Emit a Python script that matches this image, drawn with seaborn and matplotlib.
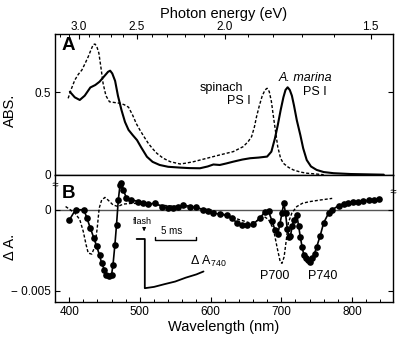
import numpy as np
import pandas as pd
import matplotlib
matplotlib.use("Agg")
import matplotlib.pyplot as plt
import seaborn as sns

# Panel A: absorption spectra
marina_nm = [401, 408, 415, 422, 430, 437, 443, 450, 455, 458, 461, 465, 469, 474, 479, 484, 490, 496,
             502, 510, 518, 528, 540, 557, 570, 585, 596, 604, 613, 622, 632, 645, 656, 668, 680, 686,
             691, 695, 699, 703, 706, 709, 712, 715, 718, 722, 727, 731, 736, 742, 750, 760, 774, 798, 845]
marina_abs = [0.504, 0.47, 0.454, 0.48, 0.53, 0.545, 0.565, 0.60, 0.625, 0.632, 0.615, 0.57, 0.48, 0.393,
              0.32, 0.272, 0.24, 0.21, 0.165, 0.109, 0.078, 0.059, 0.048, 0.043, 0.04, 0.039, 0.05, 0.062,
              0.059, 0.068, 0.079, 0.092, 0.1, 0.104, 0.11, 0.14, 0.22, 0.30, 0.39, 0.47, 0.515, 0.531,
              0.515, 0.48, 0.42, 0.33, 0.24, 0.16, 0.089, 0.05, 0.029, 0.016, 0.009, 0.004, 0.0]

spinach_nm = [398.6, 403, 408, 413, 418, 423, 427, 431, 434, 436.5, 439, 442, 445, 448, 452, 457, 465,
              472, 478, 484, 490, 495, 500, 506, 512, 518, 524, 533, 543, 557, 565, 576, 595, 613, 632,
              646, 653, 658, 662, 665, 669, 673, 677, 680, 683, 686, 689, 692, 695, 699, 703, 710, 717,
              727, 736, 760]
spinach_abs = [0.464, 0.52, 0.575, 0.61, 0.636, 0.68, 0.717, 0.76, 0.79, 0.794, 0.78, 0.74, 0.65, 0.555,
               0.48, 0.443, 0.438, 0.434, 0.425, 0.41, 0.36, 0.31, 0.272, 0.23, 0.19, 0.158, 0.13, 0.1,
               0.079, 0.065, 0.07, 0.079, 0.1, 0.12, 0.14, 0.17, 0.2, 0.231, 0.29, 0.352, 0.42, 0.478,
               0.515, 0.525, 0.505, 0.445, 0.35, 0.26, 0.17, 0.1, 0.069, 0.045, 0.029, 0.016, 0.009, 0.0]

# Panel B: flash-induced difference spectra
dA_nm = [400, 409, 421, 425, 430, 435, 439, 443, 446, 450, 452, 456, 460, 462, 464.7, 467, 469.5, 472, 473.5,
         476.6, 481, 488, 498, 505, 512, 521, 531, 540, 547, 554, 561, 571, 580, 590, 597, 604, 613, 623,
         630, 637, 644, 651, 660, 670, 677, 682, 687, 691, 695, 698, 701, 703.5, 706, 708.5, 711, 713,
         715.5, 718, 722, 724.5, 727, 729.5, 732, 735, 738, 741, 744, 747, 750, 755, 760, 767, 772,
         781, 788, 795, 802, 809, 816, 824, 831, 838]
dA_val = [-0.00065, 0.0, 0.0, -0.0005, -0.00113, -0.00175, -0.00226, -0.0028, -0.0033, -0.0037, -0.004,
          -0.00405, -0.004, -0.0034, -0.00216, -0.00093, 0.0006, 0.00154, 0.00165, 0.00123, 0.00072,
          0.00062, 0.0005, 0.0004, 0.00035, 0.0004, 0.0002, 0.00012, 0.00008, 0.00015, 0.0003, 0.0002,
          0.00014, 0.0, -0.0001, -0.0002, -0.00027, -0.00035, -0.0005, -0.0008, -0.00093, -0.00093,
          -0.0009, -0.0005, -0.00012, -0.0001, -0.0007, -0.00123, -0.0015, -0.0009, -0.0002, 0.0004,
          -0.0002, -0.0012, -0.0017, -0.0016, -0.001, -0.0006, -0.0003, -0.001, -0.0017, -0.0023,
          -0.0028, -0.003, -0.0031, -0.0032, -0.003, -0.0027, -0.0023, -0.0016, -0.0008, -0.0002, 0.0,
          0.00025, 0.00037, 0.00041, 0.00045, 0.00049, 0.00054, 0.00058, 0.00062, 0.00066]

sp_dA_nm = [395, 408, 415, 420, 424, 427, 432, 436.4, 439.7, 442.5, 446, 450.6, 455, 462, 469, 476.5,
            490, 520, 560, 600, 620, 640, 655, 665, 675, 682, 689, 694, 698.5, 701, 704, 707, 710, 715,
            722, 730, 740, 755, 772]
sp_dA_val = [0.0002, -0.0002, -0.0006, -0.00134, -0.00216, -0.00267, -0.00273, -0.00226, -0.00113, 0.0001,
             0.0006, 0.00076, 0.0006, 0.0003, 0.0002, 0.00035, 0.0004, 0.0003, 0.0002, 0.0, -0.0003,
             -0.0006, -0.0008, -0.0007, -0.0004, -0.0006, -0.0012, -0.0023, -0.0032, -0.0033, -0.0029,
             -0.0019, -0.0008, -0.0002, 0.0002, 0.0004, 0.0005, 0.0006, 0.0007]

# inset: transient at 740 nm (drawn in panel B coordinates)
trace_x = [495.5, 505, 507, 507, 520, 535, 550, 565, 580, 590]
trace_y = [-0.0018, -0.0018, -0.0018, -0.00483, -0.00475, -0.00458, -0.00442, -0.00418, -0.00398, -0.0038]

# photon energy axis
ev_major = [3.0, 2.5, 2.0, 1.5]
ev_minor = [1.5, 1.6, 1.7, 1.8, 1.9, 2.0, 2.1, 2.2, 2.3, 2.4, 2.5, 2.6, 2.7, 2.8, 2.9, 3.0, 3.1, 3.2]
HC = 1239.84  # eV*nm

sns.set_style("ticks")
plt.rcParams['font.family'] = ['Liberation Sans', 'DejaVu Sans']
plt.rcParams['mathtext.fontset'] = 'custom'
plt.rcParams['mathtext.rm'] = 'Liberation Sans'
plt.rcParams['mathtext.it'] = 'Liberation Sans:italic'
for key in ['axes.edgecolor', 'xtick.color', 'ytick.color', 'text.color', 'axes.labelcolor']:
    plt.rcParams[key] = 'black'

fig = plt.figure(figsize=(4, 3.44), dpi=100)
ax_a = fig.add_axes([0.1375, 0.4922, 0.845, 0.409])
ax_b = fig.add_axes([0.1375, 0.1221, 0.845, 0.3701])

df_m = pd.DataFrame({"nm": marina_nm, "abs": marina_abs})
df_s = pd.DataFrame({"nm": spinach_nm, "abs": spinach_abs})
sns.lineplot(data=df_m, x="nm", y="abs", color="black", lw=1.5, ax=ax_a, estimator=None)
sns.lineplot(data=df_s, x="nm", y="abs", color="black", lw=1.0, ax=ax_a, estimator=None,
             linestyle=(0, (2.2, 1.4)))

ax_b.axhline(0, color="#555555", lw=1.0, zorder=0)
df_sb = pd.DataFrame({"nm": sp_dA_nm, "dA": sp_dA_val})
df_mb = pd.DataFrame({"nm": dA_nm, "dA": dA_val})
sns.lineplot(data=df_sb, x="nm", y="dA", color="black", lw=1.0, ax=ax_b, estimator=None,
             linestyle=(0, (2.2, 1.4)))
sns.lineplot(data=df_mb, x="nm", y="dA", color="black", lw=1.2, ax=ax_b, estimator=None,
             marker="o", markersize=4.8, markeredgewidth=0, sort=False)

# inset trace + scale bar
ax_b.plot(trace_x, trace_y, color="black", lw=1.3)
ax_b.plot([521, 521, 579.5, 579.5], [-0.0017, -0.00185, -0.00185, -0.0017], color="black", lw=1.0)
ax_b.text(545, -0.00133, "5 ms", fontsize=7, ha="center", va="center")
ax_b.text(504, -0.00072, "flash", fontsize=6.5, ha="center", va="center")
ax_b.annotate("", xy=(506, -0.0015), xytext=(506, -0.001),
              arrowprops=dict(arrowstyle="-|>", lw=0.7, color="black", mutation_scale=5))
ax_b.text(571, -0.0032, r"$\Delta$ A$_{740}$", fontsize=9, ha="left", va="center")
ax_b.text(690, -0.00407, "P700", fontsize=9, ha="center", va="center")
ax_b.text(758, -0.00407, "P740", fontsize=9, ha="center", va="center")

ax_a.text(585, 0.524, "spinach", fontsize=9, ha="left", va="center")
ax_a.text(623, 0.448, "PS I", fontsize=9, ha="left", va="center")
ax_a.text(696, 0.59, "A. marina", fontsize=9, ha="left", va="center", style="italic")
ax_a.text(731, 0.50, "PS I", fontsize=9, ha="left", va="center")

ax_a.text(0.02, 0.92, "A", transform=ax_a.transAxes, fontsize=13.5, fontweight="bold", va="center")
ax_b.text(0.02, 0.85, "B", transform=ax_b.transAxes, fontsize=13.5, fontweight="bold", va="center")

xlim = (380, 858)
for ax in (ax_a, ax_b):
    ax.set_xlim(*xlim)
    for s in ax.spines.values():
        s.set_visible(True)
        s.set_linewidth(1.0)
        s.set_color("black")
    ax.tick_params(direction="in", length=3.5, width=0.8, right=True, labelsize=8.5, pad=3)
    ax.tick_params(which="minor", direction="in", length=2, width=0.7)

# panel A: photon energy ticks on top
ax_a.set_ylim(0, 0.855)
ax_a.set_yticks([0, 0.5])
ax_a.set_yticklabels(["0", "0.5"])
ax_a.set_xticks([HC / e for e in ev_major])
ax_a.set_xticklabels([f"{e:.1f}" for e in ev_major])
ax_a.set_xticks([HC / e for e in ev_minor], minor=True)
ax_a.tick_params(axis="x", which="both", top=True, bottom=False, labeltop=True, labelbottom=False)
ax_a.tick_params(axis="x", pad=1)
ax_a.xaxis.set_label_position("top")
ax_a.set_xlabel("Photon energy (eV)", fontsize=10.5, labelpad=2)
ax_a.set_ylabel("ABS.", fontsize=10.5)
ax_a.yaxis.set_label_coords(-0.112, 0.46)

ax_b.set_ylim(-0.00568, 0.00216)
ax_b.set_yticks([0, -0.005])
ax_b.set_yticklabels(["0", "\u2212 0.005"])
ax_b.set_xticks([400, 500, 600, 700, 800])
ax_b.set_xticks(np.arange(420, 860, 20), minor=True)
ax_b.set_xlabel("Wavelength (nm)", fontsize=10.5, labelpad=1)
ax_b.set_ylabel("\u0394 A.", fontsize=10.5)
ax_b.yaxis.set_label_coords(-0.112, 0.43)

# axis break marks
for xx, yy in [(0, 0.927), (1, 0.87)]:
    ax_b.plot([xx], [yy], transform=ax_b.transAxes, marker=r"$\approx$", ms=4, color="black",
              clip_on=False, mew=0)

fig.savefig("out.png", dpi=100)
